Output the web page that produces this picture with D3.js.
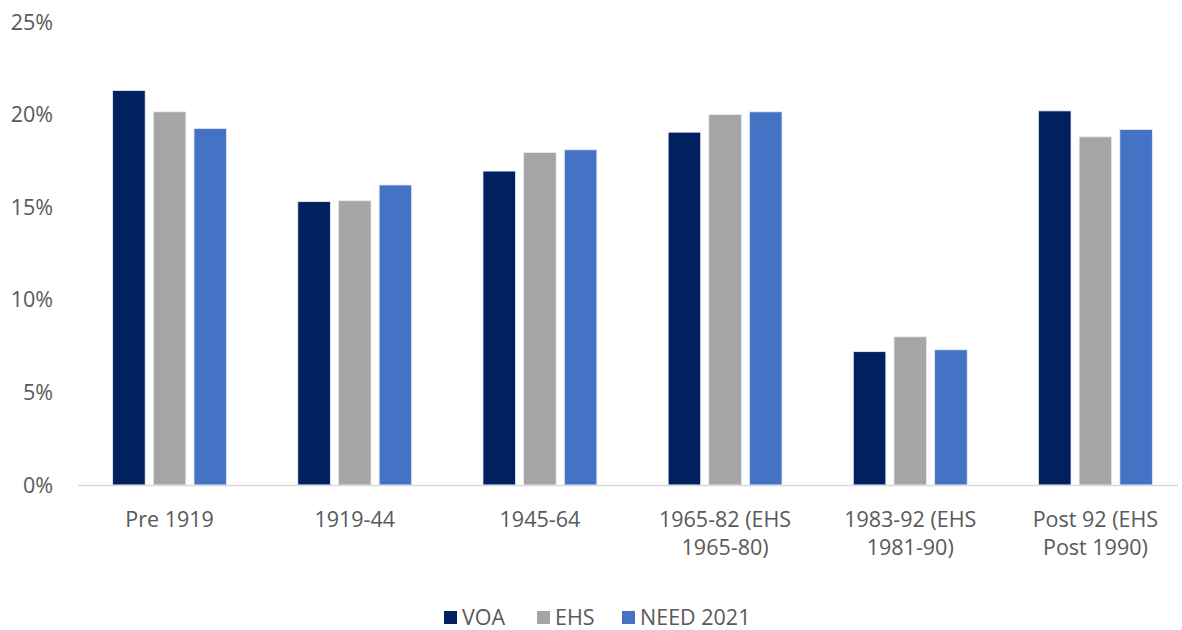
<!DOCTYPE html>
<html>
<head>
<meta charset="utf-8">
<script src="https://cdn.jsdelivr.net/npm/d3@7"></script>
<style>
  body { margin: 0; background: #fff; }
  text { font-family: "Open Sans", "Liberation Sans", sans-serif; fill: #595959; }
</style>
</head>
<body>
<script>
// data
var categories = [["Pre 1919"], ["1919-44"], ["1945-64"], ["1965-82 (EHS", "1965-80)"], ["1983-92 (EHS", "1981-90)"], ["Post 92 (EHS", "Post 1990)"]];
var seriesNames = ["VOA", "EHS", "NEED 2021"];
var voa = [21.3, 15.3, 16.95, 19.05, 7.2, 20.2];
var ehs = [20.15, 15.35, 17.95, 20.0, 8.0, 18.8];
var need = [19.25, 16.2, 18.1, 20.15, 7.3, 19.2];
var yTicks = [0, 5, 10, 15, 20, 25];
var colors = ["#002060", "#a5a5a5", "#4472c4"];

var width = 1182, height = 630;
var margin = {top: 22, right: 4, bottom: 145, left: 78};

var svg = d3.select("body").append("svg")
  .attr("width", width)
  .attr("height", height);

var x = d3.scaleBand()
  .domain(d3.range(categories.length))
  .range([77, 1188])
  .paddingInner(0.385)
  .paddingOuter(0.1925);

var x1 = d3.scaleBand()
  .domain(d3.range(3))
  .range([0, x.bandwidth()])
  .paddingInner(0.2);

var y = d3.scaleLinear()
  .domain([0, 25])
  .range([height - margin.bottom, margin.top]);

// y tick labels
svg.selectAll(".ytick")
  .data(yTicks)
  .enter()
  .append("text")
    .attr("class", "ytick")
    .attr("x", 53)
    .attr("y", function(d){ return y(d); })
    .attr("dy", "0.35em")
    .attr("text-anchor", "end")
    .style("font-size", "21.5px")
    .text(function(d){ return d + "%"; });

// bars
var all = [voa, ehs, need];
var groups = svg.selectAll(".series")
  .data(all)
  .enter()
  .append("g")
    .attr("class", "series")
    .attr("fill", function(d,i){ return colors[i]; });

groups.each(function(vals, si){
  d3.select(this).selectAll("rect")
    .data(vals)
    .enter()
    .append("rect")
      .attr("x", function(d,i){ return x(i) + x1(si); })
      .attr("y", function(d){ return y(d); })
      .attr("width", x1.bandwidth())
      .attr("height", function(d){ return y(0) - y(d); })
      .attr("stroke", "#e8ecf4")
      .attr("stroke-width", 0.8);
});

// baseline
svg.append("line")
  .attr("x1", 78)
  .attr("x2", 1178)
  .attr("y1", y(0) + 0.5)
  .attr("y2", y(0) + 0.5)
  .attr("stroke", "#d9d9d9")
  .attr("stroke-width", 1.5);

// category labels
var cl = svg.selectAll(".cat")
  .data(categories)
  .enter()
  .append("text")
    .attr("class", "cat")
    .attr("text-anchor", "middle")
    .style("font-size", "21.5px")
    .attr("x", function(d,i){ return x(i) + x.bandwidth()/2; })
    .attr("y", 527);
cl.selectAll("tspan")
  .data(function(d){ return d; })
  .enter()
  .append("tspan")
    .attr("x", function(){ return d3.select(this.parentNode).attr("x"); })
    .attr("dy", function(d,i){ return i == 0 ? 0 : 28; })
    .text(function(d){ return d; });

// legend
var legX = [444, 537, 622];
var leg = svg.selectAll(".leg")
  .data(seriesNames)
  .enter()
  .append("g")
    .attr("class", "leg")
    .attr("transform", function(d,i){ return "translate(" + legX[i] + ",611)"; });
leg.append("rect")
  .attr("width", 13)
  .attr("height", 13)
  .attr("fill", function(d,i){ return colors[i]; });
leg.append("text")
  .attr("x", 18)
  .attr("y", 6)
  .attr("dy", "0.35em")
  .style("font-size", "21.5px")
  .text(function(d){ return d; });
</script>
</body>
</html>
